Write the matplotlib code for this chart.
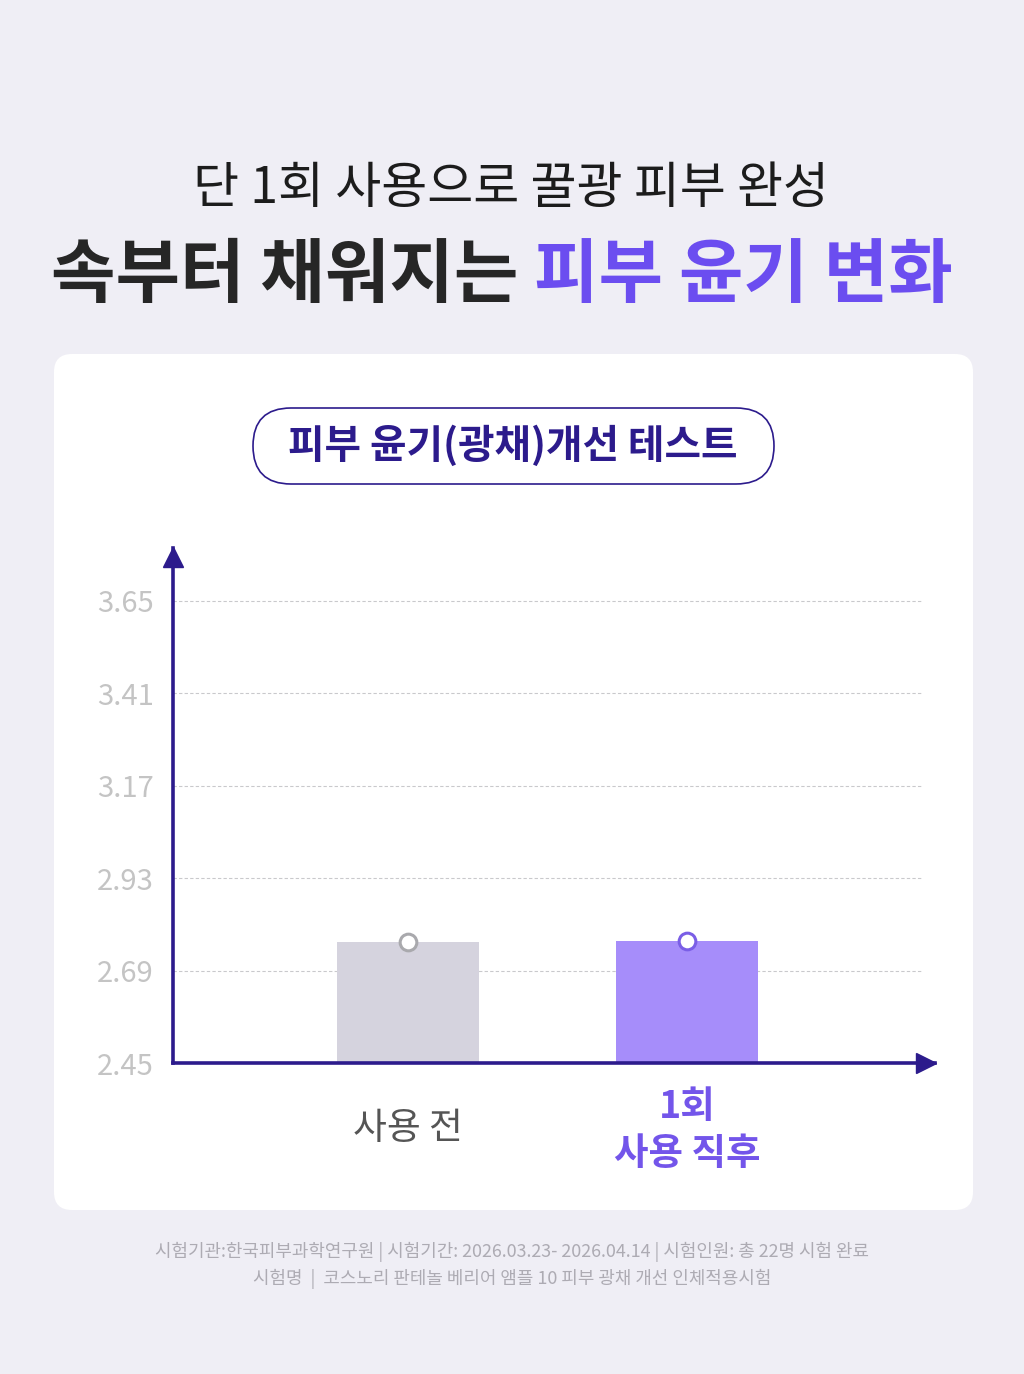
import matplotlib
matplotlib.use("Agg")
import matplotlib.pyplot as plt
from matplotlib.patches import FancyBboxPatch

plt.rcParams['font.family'] = ['Noto Sans CJK KR', 'DejaVu Sans']

# data
categories = ["사용 전", "1회\n사용 직후"]
values = [2.765, 2.768]
tick_values = [2.45, 2.69, 2.93, 3.17, 3.41, 3.65]
tick_labels = ["2.45", "2.69", "2.93", "3.17", "3.41", "3.65"]

title_top = "단 1회 사용으로 꿀광 피부 완성"
title_dark = "속부터 채워지는 "
title_accent = "피부 윤기 변화"
pill_text = "피부 윤기(광채)개선 테스트"
footer_lines = [
    "시험기관:한국피부과학연구원 | 시험기간: 2026.03.23- 2026.04.14 | 시험인원: 총 22명 시험 완료",
    "시험명  |  코스노리 판테놀 베리어 앰플 10 피부 광채 개선 인체적용시험",
]

BG = "#efeef5"
NAVY = "#2c1b8c"
PURPLE = "#6b4df0"
BAR_COLORS = ["#d5d3de", "#a68dfa"]
EDGE_COLORS = ["#a9a9ad", "#7a5ee6"]

W, H = 1024, 1374
fig = plt.figure(figsize=(W / 100, H / 100), dpi=100, facecolor=BG)

# background layer in pixel coordinates
bg = fig.add_axes([0, 0, 1, 1])
bg.set_xlim(0, W)
bg.set_ylim(H, 0)
bg.axis("off")

card = FancyBboxPatch((54, 354), 919, 856, boxstyle="round,pad=0,rounding_size=18",
                      facecolor="white", edgecolor="none")
bg.add_patch(card)

pill = FancyBboxPatch((253, 408), 521, 76, boxstyle="round,pad=0,rounding_size=38",
                      facecolor="white", edgecolor=NAVY, linewidth=1.2)
bg.add_patch(pill)
bg.text(513, 446, pill_text, ha="center", va="center", fontsize=28.6,
        fontweight="bold", color=NAVY)

bg.text(511, 189, title_top, ha="center", va="center", fontsize=36, color="#1c1c1c")

# second title line: dark + accent parts, centred as a whole
fs2 = 50.5
t1 = bg.text(0, 277, title_dark, ha="left", va="center", fontsize=fs2,
             fontweight="heavy", color="#262626")
t2 = bg.text(0, 277, title_accent, ha="left", va="center", fontsize=fs2,
             fontweight="heavy", color=PURPLE)
fig.canvas.draw()
w1 = t1.get_window_extent().width
w2 = t2.get_window_extent().width
start = 502 - (w1 + w2) / 2
t1.set_x(start)
t2.set_x(start + w1)

for i, line in enumerate(footer_lines):
    bg.text(512, 1252 + i * 27, line, ha="center", va="center", fontsize=12.9,
            color="#adabb3")

# chart axes
x0, x1 = 173, 935
y_bottom, y_top = 1063, 548
ax = fig.add_axes([x0 / W, 1 - y_bottom / H, (x1 - x0) / W, (y_bottom - y_top) / H])
ax.patch.set_alpha(0)

px_per_unit_y = (1063 - 601) / (3.65 - 2.45)
ax.set_ylim(2.45, 2.45 + (y_bottom - y_top) / px_per_unit_y)
px_per_unit_x = 687 - 408
ax.set_xlim(-(408 - x0) / px_per_unit_x, (x1 - 408) / px_per_unit_x)

for t in tick_values[1:]:
    ax.axhline(t, xmin=0, xmax=(922 - x0) / (x1 - x0), color="#c9c9cc",
               linestyle=(0, (3, 2)), linewidth=0.8, zorder=1)

xs = list(range(len(categories)))
ax.bar(xs, [v - 2.45 for v in values], bottom=2.45, width=0.51,
       color=BAR_COLORS, zorder=2)
for x, v, ec in zip(xs, values, EDGE_COLORS):
    ax.plot(x, v, marker="o", markersize=12, markerfacecolor="white",
            markeredgecolor=ec, markeredgewidth=2.2, zorder=4, clip_on=False)

for side in ["top", "right"]:
    ax.spines[side].set_visible(False)
for side in ["left", "bottom"]:
    ax.spines[side].set_color(NAVY)
    ax.spines[side].set_linewidth(2.6)
    ax.spines[side].set_zorder(3)

# arrow heads
ax.plot(0, 1 - 9 / (y_bottom - y_top), marker="^", markersize=14, color=NAVY,
        transform=ax.transAxes, clip_on=False, zorder=5)
ax.plot(1 - 9 / (x1 - x0), 0, marker=">", markersize=14, color=NAVY,
        transform=ax.transAxes, clip_on=False, zorder=5)

ax.set_yticks(tick_values)
ax.set_yticklabels(tick_labels, fontsize=21, color="#c4c4c4")
ax.tick_params(axis="y", length=0, pad=14)
ax.set_xticks([])

ax.text(xs[0], 2.45 - 65 / px_per_unit_y, categories[0], ha="center", va="center",
        fontsize=26.5, color="#555555")
ax.text(xs[1], 2.45 - 67 / px_per_unit_y, categories[1], ha="center", va="center",
        fontsize=27, fontweight="bold", color="#7355ea", linespacing=1.25)

fig.savefig("out.png", dpi=100, facecolor=BG)
